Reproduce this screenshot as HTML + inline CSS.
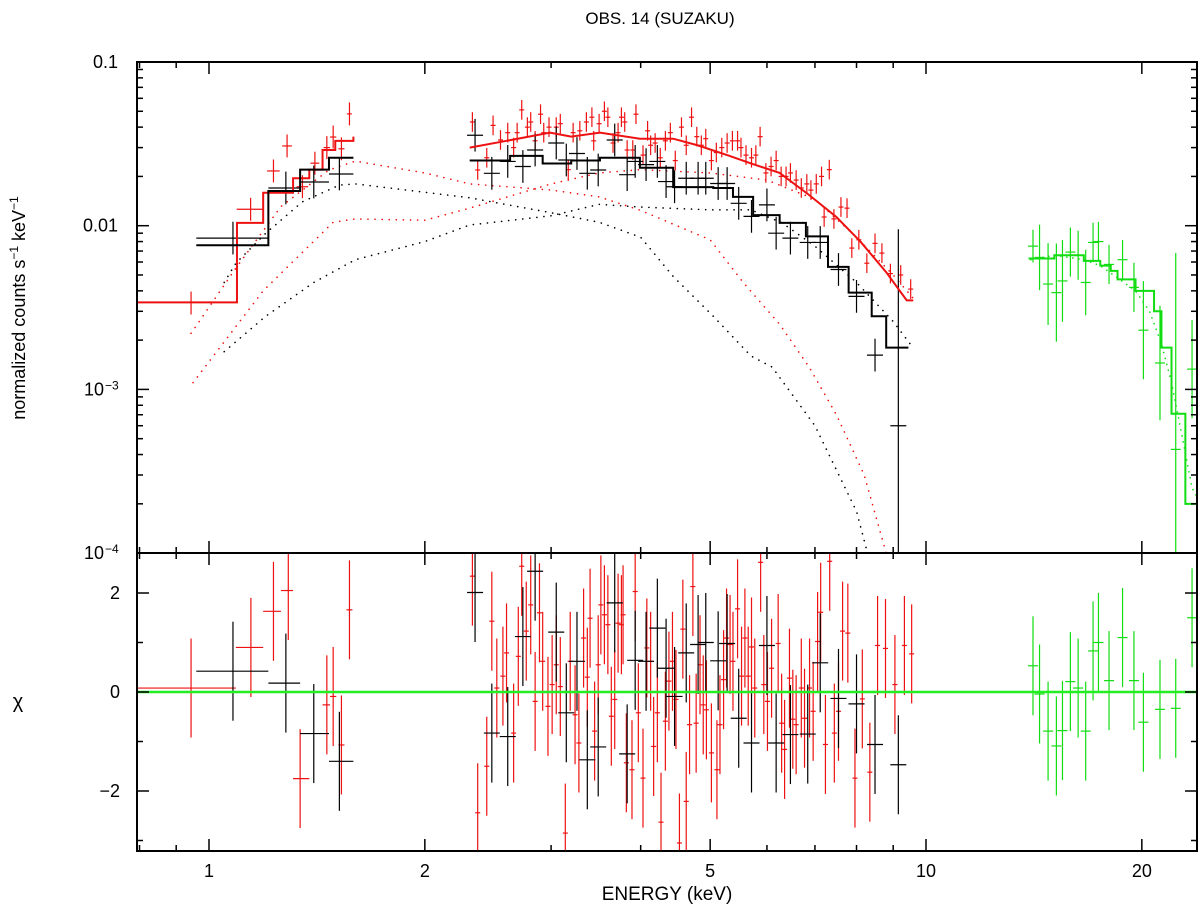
<!DOCTYPE html>
<html><head><meta charset="utf-8"><style>
body{margin:0;background:#fff}
svg{display:block;font-family:"Liberation Sans",sans-serif}
</style></head><body>
<svg id="chart" width="1200" height="910" viewBox="0 0 1200 910" xmlns="http://www.w3.org/2000/svg">
<defs>
<clipPath id="ctop"><rect x="137" y="62" width="1060" height="491"/></clipPath>
<clipPath id="cbot"><rect x="137" y="553" width="1060" height="298"/></clipPath>
</defs>
<text x="660" y="24" font-size="17" text-anchor="middle">OBS. 14 (SUZAKU)</text>
<text x="667" y="900" font-size="19" text-anchor="middle">ENERGY (keV)</text>
<text transform="translate(25,308) rotate(-90)" font-size="18" text-anchor="middle">normalized counts s<tspan font-size="12" dy="-7">−1</tspan><tspan dy="7"> keV</tspan><tspan font-size="12" dy="-7">−1</tspan></text>
<text x="18" y="708" font-size="20" text-anchor="middle">χ</text>
<g id="gtop" clip-path="url(#ctop)"></g>
<g id="gbot" clip-path="url(#cbot)"></g>
<g id="gaxes"></g>
</svg>
<script>
// ---------- data ----------
const xTicks=[1,2,5,10,20];
const yTopTicks=[0.1,0.01,0.001,0.0001];
const yTopLabels=["0.1","0.01","10","10"];
const yTopExp=["","","−3","−4"];
const yBotTicks=[2,0,-2];

// models
const redStepEdges=[0.79,1.094,1.19,1.31,1.38,1.44,1.50,1.59];
const redStepVals=[0.0034,0.0104,0.0159,0.0195,0.022,0.029,0.033,0.035];
const blackStepEdges=[0.96,1.21,1.34,1.47,1.59];
const blackStepVals=[0.0076,0.0163,0.022,0.026];
const redModelE=[2.31,2.6,2.99,3.2,3.51,3.99,4.44,4.8,5.28,5.7,6.25,6.87,7.5,8.1,8.8,9.4,9.6];
const redModelV=[0.030,0.033,0.037,0.035,0.037,0.034,0.034,0.031,0.027,0.024,0.021,0.0154,0.0113,0.0080,0.0052,0.0035,0.0035];
const blackModelE=[2.31,2.63,2.92,3.2,3.51,3.99,4.44,5.05,5.38,5.74,6.25,6.8,7.3,7.8,8.4,8.8,9.45];
const blackModelV=[0.025,0.0267,0.024,0.025,0.026,0.0226,0.0172,0.017,0.015,0.0116,0.0104,0.0086,0.0056,0.0039,0.0028,0.0018,0.0018];
const greenStepEdges=[13.9,15.1,16.6,17.5,18.1,18.5,19.6,20.8,21.3,22.0,23.0,24.5];
const greenStepVals=[0.0063,0.0066,0.0061,0.0057,0.0053,0.0047,0.0040,0.0030,0.0018,0.00071,0.0002];
const greenDotE=[14,15.1,16.6,17.5,18.5,19.6,20.5,21.3,22,22.8,23.5,24.5];
const greenDotV=[0.0062,0.0066,0.0062,0.0057,0.0048,0.0040,0.0030,0.0019,0.0011,0.0005,0.00025,0.00018];
const redSoftE=[0.944,1.09,1.26,1.47,1.6,2.0,2.31,3.0,3.5,4.0,5.0,5.56,6.25,6.87,7.5,8.2,8.8,9.3];
const redSoftV=[0.0022,0.0055,0.0131,0.0219,0.0248,0.021,0.018,0.0165,0.015,0.0124,0.0082,0.0045,0.0025,0.00137,0.0007,0.0003,0.0001,0.00005];
const redHardE=[0.95,1.19,1.49,1.6,2.0,2.31,3.0,3.5,4.0,5.0,6.0,7.0,8.0,9.0,9.6];
const redHardV=[0.0011,0.0040,0.0105,0.011,0.0108,0.0128,0.018,0.021,0.022,0.021,0.019,0.0145,0.0085,0.0050,0.0036];
const blackSoftE=[1.05,1.09,1.2,1.35,1.52,1.6,2.0,2.31,3.0,3.5,4.0,4.44,5.05,5.7,6.1,7.0,8.0,8.4];
const blackSoftV=[0.0045,0.0059,0.009,0.014,0.0177,0.018,0.016,0.0148,0.012,0.0105,0.0085,0.0049,0.0028,0.0016,0.00137,0.0006,0.00018,0.00008];
const blackHardE=[1.05,1.2,1.4,1.6,2.0,2.31,3.0,3.5,4.0,5.0,5.7,6.3,7.0,8.0,9.0,9.5];
const blackHardV=[0.0017,0.0028,0.0045,0.0062,0.008,0.0101,0.0115,0.0135,0.013,0.0125,0.0125,0.0104,0.0075,0.0045,0.0026,0.0019];

// data points (top)
const redLowE=[0.944,1.143,1.23,1.285,1.35,1.405,1.46,1.49,1.53,1.57];
const redLowDE=[0,0.05,0.025,0.02,0.025,0.02,0.015,0.015,0.015,0.012];
const redLowV=[0.00337,0.0126,0.0216,0.0307,0.0173,0.0241,0.030,0.0348,0.0295,0.0482];
const redE=[2.33,2.37,2.44,2.49,2.55,2.61,2.66,2.69,2.73,2.78,2.81,2.85,2.90,2.93,2.98,3.05,3.09,3.17,3.22,3.29,3.36,3.42,3.44,3.50,3.56,3.60,3.66,3.72,3.76,3.80,3.83,3.90,3.94,4.03,4.09,4.13,4.19,4.26,4.33,4.40,4.47,4.56,4.63,4.71,4.79,4.86,4.93,5.02,5.10,5.19,5.28,5.37,5.46,5.52,5.61,5.71,5.79,5.87,5.98,6.08,6.18,6.28,6.38,6.47,6.59,6.70,6.82,6.91,7.03,7.15,7.21,7.33,7.44,7.61,7.76,7.88,8.06,8.27,8.49,8.68,8.92,9.22,9.52];
const redV=[0.043,0.0219,0.026,0.041,0.0334,0.037,0.030,0.037,0.051,0.040,0.043,0.033,0.048,0.037,0.040,0.040,0.042,0.022,0.037,0.038,0.043,0.046,0.033,0.042,0.050,0.046,0.032,0.037,0.046,0.043,0.029,0.029,0.048,0.027,0.038,0.031,0.032,0.026,0.033,0.037,0.025,0.040,0.031,0.046,0.035,0.031,0.034,0.025,0.028,0.030,0.032,0.033,0.033,0.030,0.027,0.026,0.027,0.035,0.021,0.023,0.025,0.020,0.020,0.021,0.019,0.017,0.018,0.0165,0.018,0.020,0.0113,0.022,0.011,0.013,0.0128,0.0073,0.0082,0.0059,0.0078,0.0068,0.0051,0.0050,0.0041];
const redErrDex=0.06;
const blackLowE=[1.08,1.28,1.40,1.52];
const blackLowLo=[0.96,1.21,1.34,1.47];
const blackLowHi=[1.21,1.34,1.47,1.59];
const blackLowV=[0.0084,0.017,0.0185,0.0207];
const blackE=[2.35,2.48,2.61,2.74,2.85,3.05,3.15,3.26,3.37,3.49,3.68,3.83,3.93,4.07,4.22,4.34,4.46,4.63,4.81,4.93,5.13,5.28,5.48,5.71,6.00,6.18,6.47,6.84,7.12,7.55,8.00,8.49,9.15];
const blackV=[0.0357,0.0209,0.0247,0.023,0.029,0.032,0.0252,0.0276,0.0209,0.0219,0.0334,0.0205,0.0247,0.0236,0.0247,0.0186,0.0173,0.0195,0.0195,0.0195,0.0181,0.0181,0.0137,0.0114,0.0134,0.0090,0.0084,0.0079,0.0079,0.0054,0.0037,0.00162,0.0006];
const blackErrDex=0.1;
const greenE=[14.1,14.4,14.8,15.2,15.5,15.9,16.3,16.7,17.1,17.4,18.0,18.8,19.5,20.1,21.2,22.3,23.5];
const greenV=[0.0075,0.0064,0.0044,0.0039,0.0046,0.0069,0.0066,0.0045,0.0079,0.0080,0.0058,0.0062,0.0042,0.0023,0.00145,0.00043,0.00133];
const greenErrDex=[0.1,0.2,0.25,0.3,0.25,0.15,0.15,0.2,0.12,0.12,0.12,0.12,0.15,0.3,0.35,1.2,0.3];

// residuals
const redResLowE=[0.944,1.144,1.23,1.29,1.34,1.46,1.49,1.53,1.57];
const redResLowLo=[0.79,1.09,1.19,1.26,1.31,1.44,1.475,1.515,1.555];
const redResLowHi=[1.09,1.19,1.26,1.31,1.38,1.475,1.505,1.545,1.585];
const redResLow=[0.08,0.90,1.63,2.05,-1.75,-0.26,-0.09,-1.07,1.66];
const redResE=[2.33,2.37,2.44,2.48,2.52,2.57,2.60,2.66,2.70,2.73,2.77,2.81,2.85,2.89,2.92,2.97,3.01,3.05,3.09,3.14,3.19,3.24,3.28,3.33,3.37,3.40,3.45,3.49,3.52,3.56,3.60,3.64,3.68,3.72,3.76,3.78,3.82,3.89,3.93,3.97,4.03,4.08,4.13,4.17,4.22,4.27,4.33,4.38,4.43,4.48,4.53,4.58,4.63,4.68,4.73,4.78,4.84,4.89,4.94,5.02,5.11,5.16,5.22,5.27,5.33,5.38,5.46,5.53,5.59,5.65,5.71,5.77,5.88,5.94,6.01,6.09,6.22,6.29,6.35,6.45,6.52,6.59,6.70,6.77,6.88,6.96,7.06,7.13,7.24,7.34,7.45,7.55,7.65,7.78,7.96,8.15,8.35,8.56,8.78,9.05,9.33,9.55];
const redRes=[2.34,-2.44,-1.50,1.43,0.08,0.32,0.79,-0.83,0.72,2.54,1.23,1.76,-0.19,1.60,0.62,-0.29,0.15,0.55,0.11,-2.85,0.62,-0.46,-1.03,1.09,0.30,1.49,-0.79,0.55,1.76,1.56,1.36,-0.49,-0.15,1.39,1.36,1.56,-1.43,-1.57,2.03,-0.42,-1.74,0.89,0.62,-1.10,-0.42,-2.63,-0.59,0.22,0.62,-0.15,-3.05,1.27,-2.21,-0.66,2.13,-0.63,0.55,-0.26,-0.36,-1.23,-1.57,-0.66,0.25,1.09,0.96,0.62,1.68,0.32,1.09,0.32,0.91,0.08,2.62,0.15,-0.19,0.48,0.98,-0.63,-1.16,0.28,-0.55,-0.66,0.08,-0.53,0.08,-0.39,1.02,1.61,-1.06,2.64,-0.83,-0.39,1.23,1.19,-1.74,-0.14,-1.62,0.94,0.88,0.15,0.94,0.77];
const blackResLowE=[1.08,1.28,1.40,1.52];
const blackResLow=[0.42,0.18,-0.84,-1.40];
const blackRes=[2.01,-0.83,-0.90,1.12,2.44,1.21,-0.42,0.62,-1.37,-1.11,1.80,-1.25,0.64,0.62,1.29,0.48,-0.09,0.79,0.96,1.00,0.63,0.98,-0.53,-1.03,0.94,-1.03,-0.86,-0.85,0.59,-0.13,-0.24,-1.06,-1.47];
const greenRes=[0.53,-0.04,-0.79,-1.09,-0.78,0.21,0.08,-0.79,0.83,1.0,0.23,1.10,0.23,-0.61,-0.35,-0.33,1.50];

// ---------- scales ----------
const X0=209, DEC=717;
function xs(E){return X0+DEC*Math.log10(E);}
function ys(v){return 62+163.7*(-1-Math.log10(v));}
function yr(c){return 692-49.5*c;}
const NS="http://www.w3.org/2000/svg";
function mk(tag,attrs,parent){const e=document.createElementNS(NS,tag);for(const k in attrs)e.setAttribute(k,attrs[k]);parent.appendChild(e);return e;}
const gtop=document.getElementById('gtop'),gbot=document.getElementById('gbot'),gax=document.getElementById('gaxes');
const RED="#ee1111",BLK="#000",GRN="#11dd11";

function line(parent,x1,y1,x2,y2,col,w,name){
  const l=mk('line',{x1:x1,y1:y1,x2:x2,y2:y2,stroke:col,'stroke-width':w},parent);
  
  
  return l;
}
function stepPath(edges,vals,col,name){
  let d='M'+xs(edges[0])+','+ys(vals[0]);
  for(let i=0;i<vals.length;i++){
    d+=' L'+xs(edges[i])+','+ys(vals[i])+' L'+xs(edges[i+1])+','+ys(vals[i]);
  }
  const p=mk('path',{d:d,fill:'none',stroke:col,'stroke-width':2},gtop);
  
  
}
function curve(E,V,col,w,dash,name){
  const pts=E.map((e,i)=>xs(e)+','+ys(V[i])).join(' ');
  const p=mk('polyline',{points:pts,fill:'none',stroke:col,'stroke-width':w},gtop);
  if(dash){p.setAttribute('stroke-dasharray',dash);p.setAttribute('stroke-linecap','round');}
  
  
}
function cross(parent,x,y,xl,xr,yt,yb,col,name){
  const g=mk('g',{},parent);
  
  
  mk('line',{x1:xl,y1:y,x2:xr,y2:y,stroke:col,'stroke-width':1.2},g);
  mk('line',{x1:x,y1:yt,x2:x,y2:yb,stroke:col,'stroke-width':1.2},g);
}

// dotted components
curve(redSoftE,redSoftV,RED,1.6,"0.1 7",'red-soft-component');
curve(redHardE,redHardV,RED,1.6,"0.1 7",'red-hard-component');
curve(blackSoftE,blackSoftV,BLK,1.6,"0.1 7",'black-soft-component');
curve(blackHardE,blackHardV,BLK,1.6,"0.1 7",'black-hard-component');
curve(greenDotE,greenDotV,GRN,1.6,"0.1 6",'green-component');

// data top
redLowE.forEach((e,i)=>{const x=xs(e),y=ys(redLowV[i]);
  cross(gtop,x,y,xs(e-redLowDE[i]),xs(e+redLowDE[i]),ys(redLowV[i]*Math.pow(10,0.07)),ys(redLowV[i]/Math.pow(10,0.07)),RED,'red-point');});
redE.forEach((e,i)=>{const x=xs(e),y=ys(redV[i]);
  cross(gtop,x,y,x-2.5,x+2.5,ys(redV[i]*Math.pow(10,redErrDex)),ys(redV[i]/Math.pow(10,redErrDex)),RED,'red-point');});
blackLowE.forEach((e,i)=>{const x=xs(e),y=ys(blackLowV[i]);
  cross(gtop,x,y,xs(blackLowLo[i]),xs(blackLowHi[i]),ys(blackLowV[i]*Math.pow(10,0.1)),ys(blackLowV[i]/Math.pow(10,0.1)),BLK,'black-point');});
blackE.forEach((e,i)=>{const x=xs(e),y=ys(blackV[i]);const k=i==blackE.length-1?1.2:blackErrDex;
  cross(gtop,x,y,x-8,x+8,ys(blackV[i]*Math.pow(10,k)),ys(blackV[i]/Math.pow(10,k)),BLK,'black-point');});
greenE.forEach((e,i)=>{const x=xs(e),y=ys(greenV[i]);
  cross(gtop,x,y,x-5,x+5,ys(greenV[i]*Math.pow(10,greenErrDex[i])),ys(greenV[i]/Math.pow(10,greenErrDex[i])),GRN,'green-point');});

// models
stepPath(redStepEdges,redStepVals,RED,'red-model-low');
stepPath(blackStepEdges,blackStepVals,BLK,'black-model-low');
curve(redModelE,redModelV,RED,2,null,'red-model-high');
stepPath(blackModelE,blackModelV.slice(0,blackModelV.length-1),BLK,'black-model-high');
stepPath(greenStepEdges,greenStepVals,GRN,'green-model');

// residuals
redResLowE.forEach((e,i)=>{const y=yr(redResLow[i]);cross(gbot,xs(e),y,xs(redResLowLo[i]),xs(redResLowHi[i]),yr(redResLow[i]+1),yr(redResLow[i]-1),RED,'red-residual');});
redResE.forEach((e,i)=>{const x=xs(e),y=yr(redRes[i]);cross(gbot,x,y,x-2.5,x+2.5,yr(redRes[i]+1),yr(redRes[i]-1),RED,'red-residual');});
blackResLowE.forEach((e,i)=>{const y=yr(blackResLow[i]);cross(gbot,xs(e),y,xs(blackLowLo[i]),xs(blackLowHi[i]),yr(blackResLow[i]+1),yr(blackResLow[i]-1),BLK,'black-residual');});
blackE.forEach((e,i)=>{const x=xs(e),y=yr(blackRes[i]);cross(gbot,x,y,x-8,x+8,yr(blackRes[i]+1),yr(blackRes[i]-1),BLK,'black-residual');});
greenE.forEach((e,i)=>{const x=xs(e),y=yr(greenRes[i]);cross(gbot,x,y,x-5,x+5,yr(greenRes[i]+1),yr(greenRes[i]-1),GRN,'green-residual');});
line(gbot,137,yr(0),1197,yr(0),"#22ee22",2.5,'zero-line');

// ---------- axes ----------
function rect(x,y,w,h,name){const r=mk('rect',{x:x,y:y,width:w,height:h,fill:'none',stroke:'#000','stroke-width':2},gax);
  
  }
rect(137,62,1060,491,'top-panel-frame');
rect(137,553,1060,298,'residual-panel-frame');
const minorE=[0.8,0.9,3,4,6,7,8,9,30];
[...xTicks,...minorE].forEach(e=>{const x=xs(e);if(x<137||x>1197)return;const L=xTicks.includes(e)?12:6;
  [62,553].forEach(yb=>{line(gax,x,yb,x,yb+L,'#000',1.5,'x-tick');});
  [553,851].forEach(yb=>{line(gax,x,yb,x,yb-L,'#000',1.5,'x-tick');});
});
xTicks.forEach(e=>{const t=mk('text',{x:xs(e),y:877,'font-size':18,'text-anchor':'middle'},gax);t.textContent=e;
  
  });
for(let p=-4;p<=-1;p++){for(let m=1;m<=9;m++){const v=m*Math.pow(10,p);if(v>0.1+1e-9)continue;const y=ys(v);if(y<62||y>553)continue;const L=m==1?12:6;
  line(gax,137,y,137+L,y,'#000',1.5,'y-tick');line(gax,1197,y,1197-L,y,'#000',1.5,'y-tick');}}
yTopTicks.forEach((v,i)=>{const t=mk('text',{x:yTopExp[i]?104:118,y:ys(v)+6,'font-size':18,'text-anchor':'end'},gax);t.textContent=yTopLabels[i];
  
  
  if(yTopExp[i]){const s=mk('text',{x:105,y:ys(v),'font-size':12},gax);s.textContent=yTopExp[i];
    
    }});
for(let c=-3;c<=2;c++){const y=yr(c);const L=c%2==0?12:6;line(gax,137,y,137+L,y,'#000',1.5,'chi-tick');line(gax,1197,y,1197-L,y,'#000',1.5,'chi-tick');}
yBotTicks.forEach(c=>{const t=mk('text',{x:120,y:yr(c)+6,'font-size':18,'text-anchor':'end'},gax);t.textContent=c<0?'−'+(-c):c;
  
  });
</script>
</body></html>
